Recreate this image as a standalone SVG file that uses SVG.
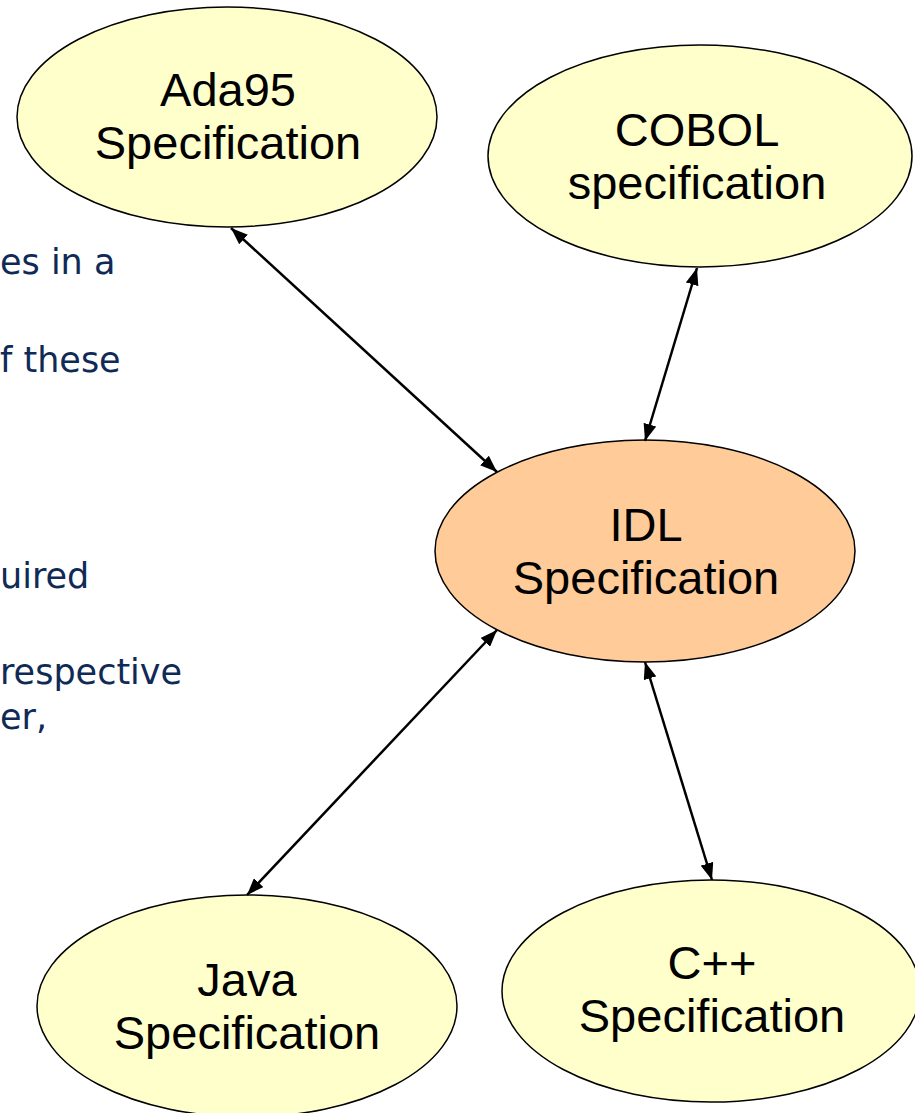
<svg xmlns="http://www.w3.org/2000/svg" width="915" height="1113" viewBox="0 0 915 1113">
  <style>
    .spec { fill: #FFFFCC; stroke: #000; stroke-width: 1.5; }
    .idl { fill: #FFCC99; stroke: #000; stroke-width: 1.5; }
    .label { font-family: "Liberation Sans", Arial, sans-serif; font-size: 47px; fill: #000; text-anchor: middle; }
    .body { font-family: "DejaVu Sans", Verdana, sans-serif; font-size: 35px; fill: #102A56; }
    .link { stroke: #000; stroke-width: 2.5; fill: none; marker-start: url(#head); marker-end: url(#head); }
  </style>
  <defs>
    <marker id="head" viewBox="0 0 17 13" refX="17" refY="6.5" markerWidth="17" markerHeight="13" markerUnits="userSpaceOnUse" orient="auto-start-reverse">
      <path d="M0,0 L17,6.5 L0,13 z" fill="#000"/>
    </marker>
  </defs>

  <!-- bullet text fragments along the left edge -->
  <g id="side-text">
    <text class="body" x="0" y="274">es in a</text>
    <text class="body" x="0" y="372">f these</text>
    <text class="body" x="0" y="588">uired</text>
    <text class="body" x="0" y="684">respective</text>
    <text class="body" x="0" y="729">er,</text>
  </g>

  <g id="node-ada95">
    <ellipse class="spec" cx="227" cy="117" rx="210" ry="110"/>
    <text class="label" x="228" y="106">Ada95</text>
    <text class="label" x="228" y="159">Specification</text>
  </g>

  <g id="node-cobol">
    <ellipse class="spec" cx="700" cy="156" rx="212" ry="111"/>
    <text class="label" x="697" y="146">COBOL</text>
    <text class="label" x="697" y="199">specification</text>
  </g>

  <g id="node-idl">
    <ellipse class="idl" cx="645" cy="551" rx="210" ry="111"/>
    <text class="label" x="646" y="541">IDL</text>
    <text class="label" x="646" y="594">Specification</text>
  </g>

  <g id="node-java">
    <ellipse class="spec" cx="247" cy="1006" rx="210" ry="111"/>
    <text class="label" x="247" y="996">Java</text>
    <text class="label" x="247" y="1049">Specification</text>
  </g>

  <g id="node-cpp">
    <ellipse class="spec" cx="711" cy="991" rx="209" ry="111"/>
    <text class="label" x="712" y="979">C++</text>
    <text class="label" x="712" y="1032">Specification</text>
  </g>

  <g id="connectors">
    <line class="link" x1="231" y1="228" x2="497" y2="472"/>
    <line class="link" x1="697" y1="268" x2="645" y2="441"/>
    <line class="link" x1="497" y1="630" x2="247" y2="895"/>
    <line class="link" x1="645" y1="662" x2="712" y2="880"/>
  </g>
</svg>
